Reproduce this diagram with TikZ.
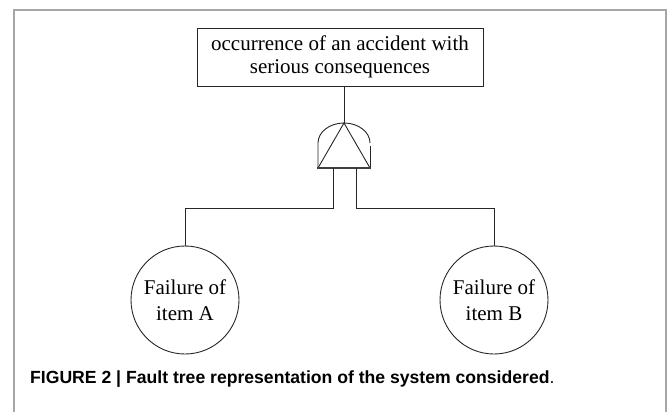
\documentclass[tikz,border=0pt]{standalone}
\usepackage{fontspec}
\setmainfont{Liberation Serif}
\newfontfamily\capfont{Liberation Sans}
\usepackage{tikz}

\begin{document}
\begin{tikzpicture}[x=1pt, y=-1pt,
    wire/.style={line width=0.9pt, draw=black!85},
    topbox/.style={wire, rectangle, minimum width=286pt, minimum height=58pt,
        inner sep=0pt, align=center, font=\fontsize{21}{23}\selectfont},
    basic/.style={wire, circle, minimum size=108pt, inner sep=0pt,
        align=center, font=\fontsize{21}{26}\selectfont}]
    \useasboundingbox (0,0) rectangle (669,412);

    % Frame
    \draw[gray!70, line width=1.3pt] (14,412) -- (14,10) -- (666,10) -- (666,412);

    % Top event and basic events
    \node[topbox] (top) at (340,57) {occurrence of an accident with\\serious consequences};
    \node[basic] (itemA) at (185,300) {Failure of\\item A};
    \node[basic] (itemB) at (494,300) {Failure of\\item B};

    % AND gate
    \coordinate (apex) at (344,123);
    \coordinate (legA) at (333,168);
    \coordinate (legB) at (356,168);
    \draw[wire] (318,168) -- (318,143) arc[start angle=180, end angle=0, x radius=26, y radius=-20];
    \draw[wire] (370,146) -- (370,168);
    \draw[wire] (318,168) -- (apex) -- (370,168);
    \draw[black!75, line width=2.6pt] (317,168) -- (371,168);

    % Connectors
    \draw[wire] (top.south -| apex) -- (apex);
    \draw[wire] (legA) -- ++(0,40) -| (itemA.north);
    \draw[wire] (legB) -- ++(0,40) -| (itemB.north);

    \node[anchor=base west, inner sep=0pt] (caption) at (30,383)
        {\capfont\fontsize{17.6}{20}\selectfont\bfseries FIGURE 2 | Fault tree representation of the system considered\mdseries.};
\end{tikzpicture}
\end{document}
